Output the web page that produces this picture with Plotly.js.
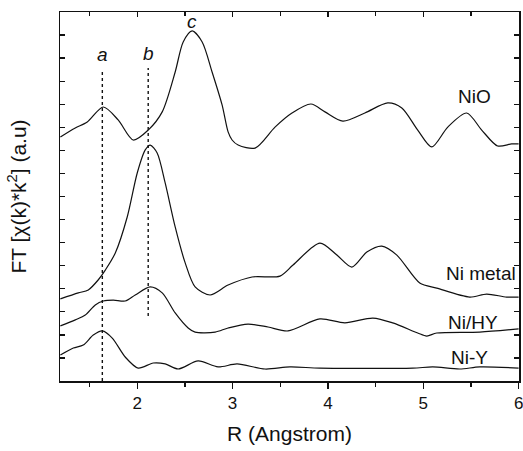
<!DOCTYPE html>
<html>
<head>
<meta charset="utf-8">
<script src="https://cdn.plot.ly/plotly-3.0.1.min.js"></script>
<style>
  html, body { margin: 0; padding: 0; background: #fff; }
  #chart { width: 523px; height: 451px; }
</style>
</head>
<body>
<div id="chart"></div>
<script>
// Fourier-transformed EXAFS spectra, stacked with vertical offsets (a.u.)
const rNiO = [1.194, 1.35, 1.476, 1.644, 1.80, 1.958, 2.115, 2.262, 2.398, 2.482, 2.576, 2.681, 2.785, 2.89, 2.953, 2.995, 3.058, 3.236, 3.445, 3.623, 3.822, 3.969, 4.157, 4.387, 4.628, 4.775, 4.942, 5.089, 5.257, 5.455, 5.613, 5.78, 5.927, 6.0];
const ftNiO = [10.58, 10.97, 11.23, 11.88, 11.32, 10.45, 10.88, 11.67, 13.40, 14.70, 15.18, 14.70, 13.40, 11.97, 10.80, 10.45, 10.23, 10.10, 11.01, 11.62, 12.01, 11.67, 11.27, 11.62, 12.06, 11.84, 10.88, 10.15, 11.01, 11.62, 10.88, 10.19, 10.28, 10.28];

const rNiMetal = [1.194, 1.382, 1.487, 1.59, 1.665, 1.77, 1.895, 2.0, 2.084, 2.136, 2.209, 2.293, 2.398, 2.503, 2.607, 2.764, 2.953, 3.204, 3.497, 3.634, 3.916, 4.094, 4.251, 4.408, 4.565, 4.723, 4.963, 5.141, 5.487, 5.665, 5.874, 6.0];
const ftNiMetal = [3.56, 3.82, 3.95, 4.38, 4.81, 5.55, 7.11, 9.02, 10.02, 10.23, 9.89, 8.59, 6.68, 5.12, 4.08, 3.73, 4.16, 4.51, 4.55, 5.03, 5.98, 5.46, 4.94, 5.59, 5.85, 5.46, 4.25, 4.03, 3.64, 3.77, 3.64, 3.64];

const rNiHY = [1.194, 1.351, 1.455, 1.56, 1.644, 1.749, 1.874, 1.979, 2.136, 2.262, 2.398, 2.534, 2.607, 2.817, 2.953, 3.162, 3.372, 3.581, 3.916, 4.178, 4.471, 4.68, 4.942, 5.037, 5.141, 5.592, 6.0];
const ftNiHY = [2.39, 2.65, 2.86, 3.30, 3.47, 3.51, 3.47, 3.73, 4.08, 3.82, 2.95, 2.30, 2.12, 2.12, 2.30, 2.47, 2.34, 2.17, 2.69, 2.52, 2.73, 2.52, 2.08, 1.95, 2.08, 2.12, 2.26];

const rNiY = [1.194, 1.33, 1.434, 1.539, 1.634, 1.738, 1.874, 2.01, 2.168, 2.293, 2.429, 2.639, 2.848, 3.047, 3.34, 3.602, 3.916, 4.89, 5.1, 5.382, 5.592, 6.0];
const ftNiY = [1.13, 1.43, 1.56, 1.99, 2.17, 1.86, 1.04, 0.56, 0.78, 0.74, 0.52, 0.87, 0.61, 0.74, 0.52, 0.61, 0.56, 0.56, 0.61, 0.52, 0.61, 0.56];

// Peak markers a and b (dotted guides) and c
const peakNames = ["a", "b", "c"];
const peakR = [1.634, 2.115, 2.576];
const guideBottom = [0, 2.82];
const guideTop = [13.4, 13.57];

const seriesNames = ["NiO", "Ni metal", "Ni/HY", "Ni-Y"];

const lineStyle = { color: "#111", width: 1.2, shape: "spline", smoothing: 0.8 };
function curve(x, y, name) {
  return { x: x, y: y, name: name, type: "scatter", mode: "lines", line: lineStyle, hoverinfo: "skip" };
}

const traces = [
  curve(rNiO, ftNiO, seriesNames[0]),
  curve(rNiMetal, ftNiMetal, seriesNames[1]),
  curve(rNiHY, ftNiHY, seriesNames[2]),
  curve(rNiY, ftNiY, seriesNames[3])
];
for (let i = 0; i < guideTop.length; i++) {
  traces.push({
    x: [peakR[i], peakR[i]], y: [guideBottom[i], guideTop[i]],
    type: "scatter", mode: "lines", xaxis: "x2",
    line: { color: "#111", width: 1.4, dash: "dot" }, hoverinfo: "skip"
  });
}

const labelFont = { family: "Liberation Sans, Arial, sans-serif", size: 19, color: "#111" };
const italicFont = { family: "Liberation Sans, Arial, sans-serif", size: 19, color: "#111", style: "italic" };

const annotations = [
  { x: 5.54, y: 12.32, text: seriesNames[0], xanchor: "center", yanchor: "middle" },
  { x: 5.99, y: 4.68, text: seriesNames[1], xanchor: "right", yanchor: "middle" },
  { x: 5.52, y: 2.52, text: seriesNames[2], xanchor: "center", yanchor: "middle" },
  { x: 5.49, y: 1.04, text: seriesNames[3], xanchor: "center", yanchor: "middle" }
].map(a => Object.assign(a, { showarrow: false, font: labelFont }));

const peakLabelY = [14.14, 14.22, 15.57];
for (let i = 0; i < peakNames.length; i++) {
  annotations.push({
    x: peakR[i], y: peakLabelY[i], text: peakNames[i],
    showarrow: false, xanchor: "center", yanchor: "middle", font: italicFont
  });
}

const axisFont = { family: "Liberation Sans, Arial, sans-serif", size: 17, color: "#111" };
const titleFont = { family: "Liberation Sans, Arial, sans-serif", size: 21, color: "#111" };
const xRange = [1.19, 6.004];

const layout = {
  width: 523, height: 451,
  margin: { l: 60, r: 4, t: 12, b: 70 },
  paper_bgcolor: "#fff", plot_bgcolor: "#fff",
  showlegend: false,
  xaxis: {
    range: xRange, dtick: 1, tick0: 0,
    ticks: "outside", ticklen: 6, tickwidth: 1.3, tickcolor: "#111",
    minor: { dtick: 0.5, ticks: "outside", ticklen: 4, tickwidth: 1.3, tickcolor: "#111" },
    showline: true, linecolor: "#111", linewidth: 1.5, mirror: true,
    showgrid: false, zeroline: false,
    tickfont: axisFont, ticklabeloverflow: "allow",
    title: { text: "R (Angstrom)", font: titleFont, standoff: 14 }
  },
  xaxis2: {
    overlaying: "x", side: "top", matches: "x",
    range: xRange, dtick: 1, tick0: 0,
    ticks: "inside", ticklen: 5, tickwidth: 1.3, tickcolor: "#111",
    minor: { dtick: 0.5, ticks: "inside", ticklen: 4, tickwidth: 1.3, tickcolor: "#111" },
    showticklabels: false, showgrid: false, zeroline: false, showline: false
  },
  yaxis: {
    range: [0, 16], dtick: 1, tick0: 0,
    ticks: "inside", ticklen: 5, tickwidth: 1.3, tickcolor: "#111",
    showticklabels: false,
    showline: true, linecolor: "#111", linewidth: 1.5, mirror: "ticks",
    showgrid: false, zeroline: false,
    title: { text: "FT [\u03c7(k)*k<sup>2</sup>] (a.u)", font: titleFont, standoff: 26 }
  },
  annotations: annotations
};

Plotly.newPlot("chart", traces, layout, { staticPlot: true, displayModeBar: false });
</script>
</body>
</html>
